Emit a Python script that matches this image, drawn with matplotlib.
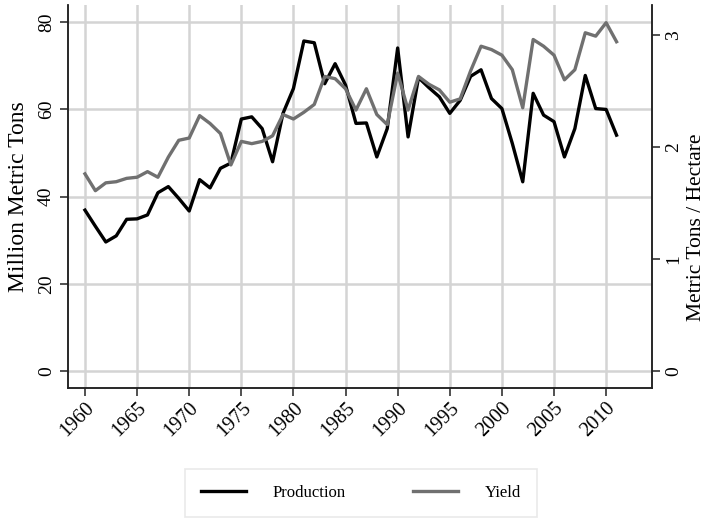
import numpy as np
import matplotlib
matplotlib.use("Agg")
import matplotlib.pyplot as plt

# Data
years = list(range(1960, 2012))
production = [36.9, 33.2, 29.6, 31.0, 34.8, 34.9, 35.8, 40.9, 42.3, 39.6,
              36.7, 43.9, 42.0, 46.5, 47.7, 57.8, 58.3, 55.6, 48.0, 59.1,
              64.8, 75.7, 75.3, 65.9, 70.5, 65.6, 56.8, 56.9, 49.1, 55.6,
              74.1, 53.7, 67.3, 65.0, 62.9, 59.1, 62.1, 67.6, 69.1, 62.5,
              60.2, 52.2, 43.4, 63.7, 58.7, 57.2, 49.1, 55.6, 67.8, 60.2,
              60.0, 54.1]
yield_ = [1.76, 1.61, 1.68, 1.69, 1.72, 1.73, 1.78, 1.73, 1.91, 2.06,
          2.08, 2.28, 2.21, 2.12, 1.84, 2.05, 2.03, 2.05, 2.10, 2.29,
          2.25, 2.31, 2.38, 2.63, 2.61, 2.52, 2.33, 2.52, 2.29, 2.20,
          2.66, 2.33, 2.63, 2.56, 2.51, 2.40, 2.43, 2.68, 2.90, 2.87,
          2.82, 2.69, 2.35, 2.96, 2.90, 2.82, 2.60, 2.69, 3.02, 2.99,
          3.11, 2.94]
x_ticks = list(range(1960, 2011, 5))
left_ticks = [0, 20, 40, 60, 80]
right_ticks = [0, 1, 2, 3]

plt.rcParams['font.family'] = ['Liberation Serif', 'DejaVu Serif']

fig = plt.figure(figsize=(7.11, 5.21), dpi=100)
ax = fig.add_axes([0.0956, 0.2553, 0.8214, 0.7351])
ax2 = ax.twinx()

grid_c = '#d4d4d4'
for t in x_ticks:
    ax.axvline(t, color=grid_c, linewidth=1.8, zorder=0)
for t in left_ticks:
    ax.axhline(t, color=grid_c, linewidth=1.8, zorder=0)

l1, = ax.plot(years, production, color='black', linewidth=2.4, label='Production', zorder=3)
l2, = ax2.plot(years, yield_, color='#707070', linewidth=2.4, label='Yield', zorder=2)

ax.set_xlim(1958.37, 2014.4)
ax.set_ylim(-3.9, 83.96)
ax2.set_ylim(-0.152, 3.268)

ax.set_xticks(x_ticks)
ax.set_xticklabels([str(t) for t in x_ticks], rotation=45, ha='right',
                   rotation_mode='anchor', fontsize=14.5)
ax.set_yticks(left_ticks)
ax.set_yticklabels([str(t) for t in left_ticks], rotation=90, va='center', fontsize=14)
ax2.set_yticks(right_ticks)
ax2.set_yticklabels([str(t) for t in right_ticks], rotation=90, va='center', fontsize=14)

for a in (ax, ax2):
    a.spines['top'].set_visible(False)
    for s in a.spines.values():
        s.set_linewidth(1.1)
        s.set_color('#222222')
    a.tick_params(length=6, width=1.1, color='#222222')
ax.tick_params(axis='x', pad=2)

ax.set_ylabel('Million Metric Tons', fontsize=17)
ax2.set_ylabel('Metric Tons / Hectare', fontsize=15.5)
ax.yaxis.set_label_coords(-0.066, 0.5)
ax2.yaxis.set_label_coords(1.06, 0.42)

leg = fig.legend([l1, l2], ['Production', 'Yield'], loc='center',
                 bbox_to_anchor=(361 / 711, 1 - 493 / 521), ncol=2,
                 fontsize=12, frameon=True, fancybox=False,
                 handlelength=2.7, handletextpad=1.6, columnspacing=4.0,
                 borderpad=0.95)
leg.get_frame().set_edgecolor('#e4e4e4')
leg.get_frame().set_linewidth(1.2)

fig.savefig('out.png', dpi=100)
